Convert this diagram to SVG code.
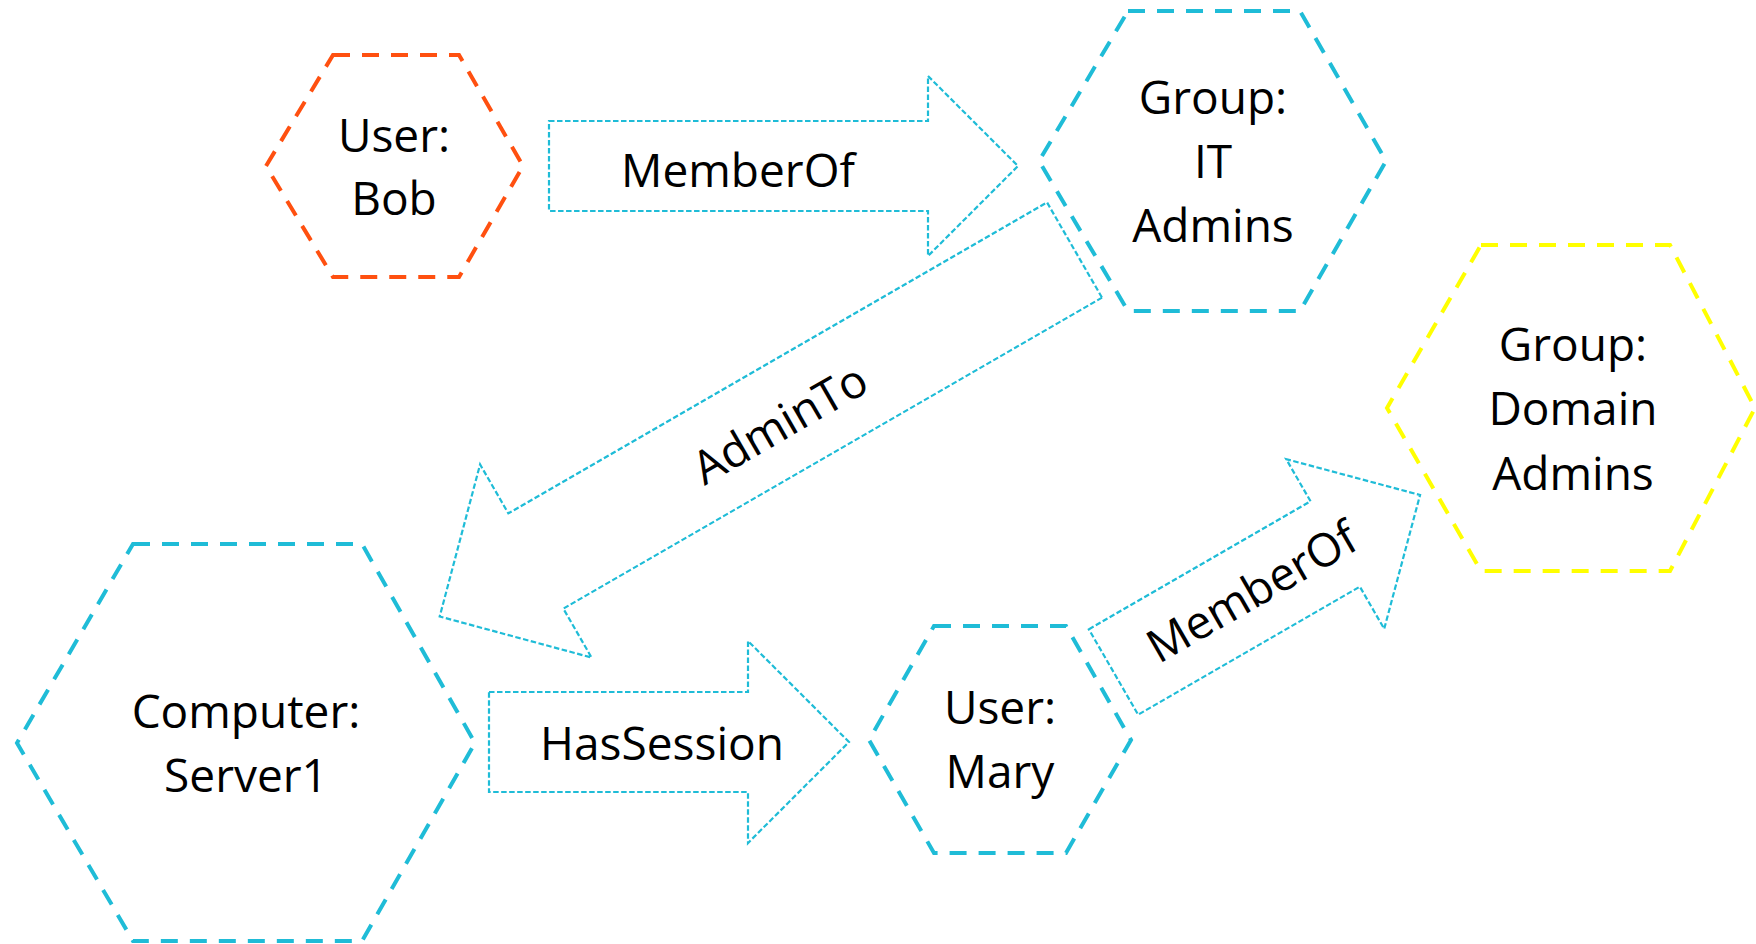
<svg xmlns="http://www.w3.org/2000/svg" width="1756" height="944" viewBox="0 0 1756 944">
<style>
.hex{fill:none;stroke-width:4;stroke-dasharray:17 12;stroke-linejoin:miter}
.cy{stroke:#1fbcd7}
.or{stroke:#ff5010}
.ye{stroke:#ffff00}
.arr{fill:none;stroke:#1fbcd7;stroke-width:2.2;stroke-dasharray:5.5 2.5}
text{font-family:"Open Sans","Noto Sans","DejaVu Sans",sans-serif;font-size:46px;fill:#000;text-anchor:middle}
</style>
<rect width="1756" height="944" fill="#fff"/>
<g id="connectors">
<g id="e-memberof-1">
<path class="arr" d="M549,121 H928 V76 L1018,166 L928,256 V211 H549 Z"/>
<text x="738" y="187">MemberOf</text>
</g>
<g id="e-adminto">
<polygon class="arr" transform="translate(1074.5,250) rotate(150)" points="0,-55 622,-55 622,-111.5 733,0 622,111.5 622,55 0,55"/>
<text transform="translate(780,424) rotate(-30)" x="0" y="16">AdminTo</text>
</g>
<g id="e-hassession">
<path class="arr" d="M489,692 H748 V641 L849,742 L748,843 V792 H489 Z"/>
<text x="662" y="760">HasSession</text>
</g>
<g id="e-memberof-2">
<polygon class="arr" transform="translate(1113.5,672) rotate(-30)" points="0,-49.3 256,-49.3 256,-98 354,0 256,98 256,49.3 0,49.3"/>
<text transform="translate(1252,592) rotate(-30)" x="0" y="16">MemberOf</text>
</g>
</g>
<g id="n-bob">
<polygon class="hex or" points="333,55 459,55 523,166 459,277 333,277 266,166"/>
<text x="394" y="152">User:</text>
<text x="394" y="215">Bob</text>
</g>
<g id="n-itadmins">
<polygon class="hex cy" points="1128,11 1300,11 1386,161 1300,311 1128,311 1039,161"/>
<text x="1213" y="114">Group:</text>
<text x="1213" y="178">IT</text>
<text x="1213" y="242">Admins</text>
</g>
<g id="n-domainadmins">
<polygon class="hex ye" points="1481,245 1670,245 1755,408 1670,571 1481,571 1387,408"/>
<text x="1573" y="361">Group:</text>
<text x="1573" y="425">Domain</text>
<text x="1573" y="490">Admins</text>
</g>
<g id="n-server1">
<polygon class="hex cy" points="133,544 362,544 475,743 362,941 133,941 17,743"/>
<text x="246" y="728">Computer:</text>
<text x="246" y="792">Server1</text>
</g>
<g id="n-mary">
<polygon class="hex cy" points="934,626 1066,626 1131,740 1066,853 934,853 869,740"/>
<text x="1000" y="724">User:</text>
<text x="1000" y="788">Mary</text>
</g>
</svg>
